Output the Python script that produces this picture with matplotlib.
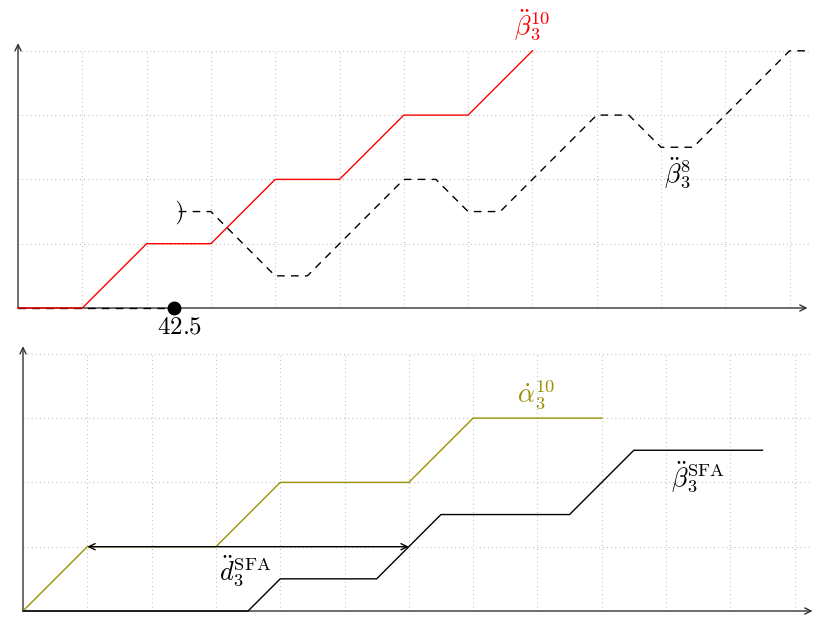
import matplotlib
matplotlib.use("Agg")
import matplotlib.pyplot as plt

plt.rcParams["mathtext.fontset"] = "cm"
plt.rcParams["font.family"] = ["DejaVu Serif"]

# ---- top panel data (grid units) ----
red_x = [0, 1, 2, 3, 4, 5, 6, 7, 8]
red_y = [0, 0, 1, 1, 2, 2, 3, 3, 4]
dash_x = [2.5, 3, 4, 4.5, 6, 6.5, 7, 7.5, 9, 9.5, 10, 10.5, 12, 12.27]
dash_y = [1.5, 1.5, 0.5, 0.5, 2, 2, 1.5, 1.5, 3, 3, 2.5, 2.5, 4, 4]
tick_step = 17.5
marker_value = 42.5

# ---- bottom panel data (grid units) ----
olive_x = [0, 1, 3, 4, 6, 7, 9]
olive_y = [0, 1, 1, 2, 2, 3, 3]
sfa_x = [0, 3.5, 4, 5.5, 6.5, 8.5, 9.5, 11.5]
sfa_y = [0, 0, 0.5, 0.5, 1.5, 1.5, 2.5, 2.5]
span_start, span_end, span_level = 1, 6, 1

W, H = 813, 620
U = 64.3  # pixels per grid unit
fig = plt.figure(figsize=(W / 100, H / 100), dpi=100)

RED = "#ff0000"
OLIVE = "#9a9000"
GRID = "#b0b0b0"
DASH = (0, (5.5, 4.5))
LABEL_SIZE = 19


def make_axes(px_top, px_bottom, ox, oy):
    ax = fig.add_axes([0, (H - px_bottom) / H, 1, (px_bottom - px_top) / H])
    ax.set_xlim(-ox / U, (W - ox) / U)
    ax.set_ylim((oy - px_bottom) / U, (oy - px_top) / U)
    ax.axis("off")
    return ax


def draw_frame(ax, xmax, ymax, grid_right):
    for gx in range(1, 13):
        ax.plot([gx, gx], [0, 4], ls=(0, (0.7, 3.0)), color=GRID, lw=0.8, zorder=0)
    for gy in range(1, 5):
        ax.plot([0, grid_right], [gy, gy], ls=(0, (0.7, 3.0)), color=GRID, lw=0.8, zorder=0)
    arrow = dict(arrowstyle="->,head_length=0.45,head_width=0.22", color="#333333", lw=1.0,
                 shrinkA=0, shrinkB=0)
    ax.annotate("", xy=(xmax, 0), xytext=(0, 0), arrowprops=arrow, zorder=1)
    ax.annotate("", xy=(0, ymax), xytext=(0, 0), arrowprops=arrow, zorder=1)


# ---- top panel ----
ax1 = make_axes(0, 330, 18, 308)
draw_frame(ax1, 12.28, 4.12, 12.3)
ax1.plot(red_x, red_y, color=RED, lw=1.0, zorder=3)
ax1.plot(dash_x, dash_y, color="black", lw=1.0, ls=DASH, zorder=3)
ax1.plot([dash_x[0]], [dash_y[0]], marker=r"$\mathrm{)}$", color="black", markersize=17,
         markeredgewidth=0, zorder=3)
dot_x = marker_value / tick_step
ax1.plot([0, dot_x], [0, 0], color="black", lw=1.0, ls=DASH, zorder=2)
ax1.plot([dot_x], [0], marker="o", color="black", markersize=9, zorder=4)
ax1.text(dot_x + 0.08, -0.12, r"$42.5$", fontsize=18, ha="center", va="top")
ax1.text(8.0, 4.12, r"$\ddot{\beta}_3^{10}$", color=RED, fontsize=LABEL_SIZE,
         ha="center", va="bottom")
ax1.text(10.25, 2.1, r"$\ddot{\beta}_3^{8}$", color="black", fontsize=LABEL_SIZE,
         ha="center", va="center")

# ---- bottom panel ----
ax2 = make_axes(330, 620, 23, 611)
draw_frame(ax2, 12.28, 4.12, 12.25)
ax2.plot(olive_x, olive_y, color=OLIVE, lw=1.0, zorder=3)
ax2.plot(sfa_x, sfa_y, color="black", lw=1.0, zorder=3)
ax2.annotate("", xy=(span_end, span_level), xytext=(span_start, span_level),
             arrowprops=dict(arrowstyle="<->,head_length=0.45,head_width=0.22",
                             color="black", lw=1.0, shrinkA=0, shrinkB=0), zorder=4)
ax2.text(3.45, 0.62, r"$\ddot{d}_3^{\mathrm{SFA}}$", fontsize=LABEL_SIZE, ha="center", va="center")
ax2.text(7.98, 3.36, r"$\dot{\alpha}_3^{10}$", color=OLIVE, fontsize=LABEL_SIZE,
         ha="center", va="center")
ax2.text(10.5, 2.08, r"$\ddot{\beta}_3^{\mathrm{SFA}}$", fontsize=LABEL_SIZE,
         ha="center", va="center")

fig.savefig("out.png", dpi=100)
